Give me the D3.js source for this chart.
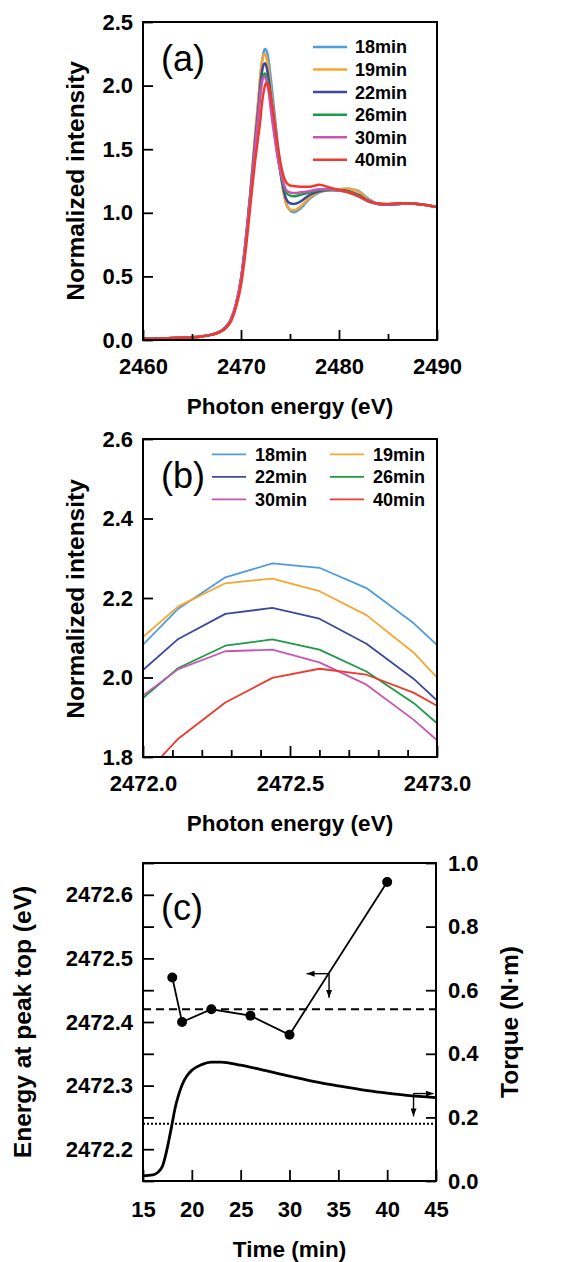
<!DOCTYPE html>
<html><head><meta charset="utf-8">
<script src="https://cdn.jsdelivr.net/npm/d3@7"></script>
<style>body{margin:0;background:#fff}svg{display:block}text{font-family:"Liberation Sans",Arial,Helvetica,sans-serif}</style>
</head><body><svg id="chart" width="567" height="1262"></svg>
<script>
// ---------- data ----------
const seriesNames = ["18min", "19min", "22min", "26min", "30min", "40min"];
const seriesColors = ["#4f9de0", "#f8a530", "#3c4a9e", "#1c9a48", "#c855b2", "#ee3a2e"];

const energy = [2460, 2462, 2464, 2465, 2466, 2467, 2468, 2468.5, 2469, 2469.5, 2470, 2470.5, 2471, 2471.4, 2471.8,
  2471.96, 2472.12, 2472.28, 2472.44, 2472.60, 2472.76, 2472.92, 2473.08,
  2473.4, 2473.8, 2474.2, 2474.6, 2475.0, 2475.4, 2476, 2477, 2478, 2479, 2480, 2481, 2482, 2483,
  2484, 2485, 2486, 2487, 2488, 2489, 2490];

const int18 = [0.010, 0.012, 0.017, 0.021, 0.028, 0.042, 0.072, 0.105, 0.165, 0.28, 0.48, 0.80, 1.20, 1.56, 1.90,
  2.052, 2.173, 2.252, 2.287, 2.276, 2.225, 2.137, 2.027,
  1.80, 1.50, 1.24, 1.08, 1.02, 1.005, 1.03, 1.11, 1.16, 1.18, 1.185, 1.19, 1.17, 1.11,
  1.07, 1.065, 1.07, 1.075, 1.07, 1.06, 1.045];
const int19 = [0.010, 0.012, 0.017, 0.021, 0.028, 0.042, 0.072, 0.105, 0.165, 0.28, 0.48, 0.80, 1.21, 1.58, 1.92,
  2.076, 2.179, 2.237, 2.249, 2.217, 2.157, 2.063, 1.937,
  1.74, 1.46, 1.22, 1.07, 1.025, 1.02, 1.045, 1.12, 1.165, 1.18, 1.185, 1.19, 1.165, 1.105,
  1.07, 1.065, 1.07, 1.075, 1.07, 1.06, 1.045];
const int22 = [0.010, 0.012, 0.017, 0.021, 0.028, 0.042, 0.072, 0.105, 0.165, 0.28, 0.47, 0.79, 1.18, 1.53, 1.85,
  1.993, 2.097, 2.160, 2.175, 2.148, 2.085, 1.997, 1.887,
  1.69, 1.44, 1.24, 1.11, 1.075, 1.07, 1.085, 1.14, 1.17, 1.18, 1.18, 1.17, 1.14, 1.095,
  1.07, 1.065, 1.07, 1.075, 1.07, 1.06, 1.045];
const int26 = [0.010, 0.012, 0.017, 0.021, 0.028, 0.042, 0.072, 0.105, 0.165, 0.28, 0.47, 0.78, 1.16, 1.48, 1.79,
  1.923, 2.024, 2.080, 2.096, 2.070, 2.015, 1.936, 1.834,
  1.64, 1.42, 1.26, 1.16, 1.135, 1.13, 1.14, 1.16, 1.18, 1.18, 1.175, 1.165, 1.135, 1.09,
  1.07, 1.065, 1.07, 1.075, 1.07, 1.06, 1.045];
const int30 = [0.010, 0.012, 0.017, 0.021, 0.028, 0.042, 0.072, 0.105, 0.17, 0.29, 0.48, 0.79, 1.17, 1.49, 1.80,
  1.932, 2.021, 2.066, 2.070, 2.038, 1.982, 1.894, 1.790,
  1.61, 1.41, 1.27, 1.18, 1.16, 1.155, 1.16, 1.17, 1.185, 1.185, 1.175, 1.16, 1.13, 1.09,
  1.07, 1.065, 1.07, 1.075, 1.07, 1.06, 1.045];
const int40 = [0.010, 0.012, 0.017, 0.021, 0.028, 0.040, 0.068, 0.098, 0.15, 0.26, 0.43, 0.72, 1.09, 1.38, 1.62,
  1.72, 1.846, 1.937, 1.999, 2.022, 2.007, 1.962, 1.896,
  1.73, 1.50, 1.33, 1.24, 1.215, 1.21, 1.205, 1.205, 1.22, 1.20, 1.18, 1.16, 1.13, 1.09,
  1.075, 1.07, 1.075, 1.075, 1.07, 1.06, 1.045];
const intensities = [int18, int19, int22, int26, int30, int40];

const timeMin = [18, 19, 22, 26, 30, 40];
const peakTopEnergy = [2472.47, 2472.40, 2472.42, 2472.41, 2472.38, 2472.62];

const torqueTime = [15, 16, 16.5, 17, 17.3, 17.65, 18, 18.3, 18.6, 19, 19.5, 20, 21, 22, 23, 25, 27, 30, 33, 35, 38, 40, 42, 45];
const torqueVal = [0.016, 0.019, 0.027, 0.047, 0.079, 0.128, 0.183, 0.231, 0.266, 0.302, 0.331, 0.348, 0.366, 0.374, 0.374, 0.364, 0.351, 0.33, 0.31, 0.299, 0.284, 0.276, 0.269, 0.262];

const dashedRef = 2472.42;   // left axis
const dottedRef = 2472.24;   // left axis

// tick values
const aTicksX = [2460, 2465, 2470, 2475, 2480, 2485, 2490];
const aLabelsX = [2460, 2470, 2480, 2490];
const aTicksY = [0, 0.5, 1.0, 1.5, 2.0, 2.5];
const bTicksX = [2472.0, 2472.1, 2472.2, 2472.3, 2472.4, 2472.5, 2472.6, 2472.7, 2472.8, 2472.9, 2473.0];
const bLabelsX = [2472.0, 2472.5, 2473.0];
const bTicksY = [1.8, 2.0, 2.2, 2.4, 2.6];
const cTicksX = [15, 20, 25, 30, 35, 40, 45];
const cTicksYL = [2472.15, 2472.2, 2472.25, 2472.3, 2472.35, 2472.4, 2472.45, 2472.5, 2472.55, 2472.6, 2472.65];
const cLabelsYL = [2472.2, 2472.3, 2472.4, 2472.5, 2472.6];
const cTicksYR = [0, 0.2, 0.4, 0.6, 0.8, 1.0];

// ---------- drawing ----------
const svg = d3.select("#chart");
const FONT = '"Liberation Sans",Arial,Helvetica,sans-serif';
const isIn = (arr, d) => arr.some(v => Math.abs(v - d) < 1e-6);

svg.append("defs").append("marker")
  .attr("id", "ah").attr("viewBox", "0 0 8 6").attr("refX", 8).attr("refY", 3)
  .attr("markerWidth", 8).attr("markerHeight", 6).attr("markerUnits", "userSpaceOnUse")
  .attr("orient", "auto")
  .append("path").attr("d", "M0,0L8,3L0,6Z").attr("fill", "#000");

function styleAxis(sel) {
  sel.select(".domain").remove();
  sel.attr("font-size", 22).attr("font-family", FONT).attr("font-weight", "bold");
  sel.selectAll(".tick line").attr("stroke", "#000").attr("stroke-width", 1.8);
  sel.selectAll(".tick text").attr("fill", "#000");
}

function bottomAxis(x, y0, ticks, labels, fmt, majLen, minLen, pad) {
  const ax = d3.axisBottom(x).tickValues(ticks).tickSize(-majLen).tickPadding(pad)
    .tickFormat(d => isIn(labels, d) ? fmt(d) : "");
  const g = svg.append("g").attr("transform", `translate(0,${y0})`).call(ax);
  styleAxis(g);
  g.selectAll(".tick").filter(d => !isIn(labels, d)).select("line").attr("y2", -minLen);
  return g;
}
function leftAxis(y, x0, ticks, labels, fmt, len) {
  const ax = d3.axisLeft(y).tickValues(ticks).tickSize(-len).tickPadding(10)
    .tickFormat(d => isIn(labels, d) ? fmt(d) : "");
  const g = svg.append("g").attr("transform", `translate(${x0},0)`).call(ax);
  styleAxis(g);
  return g;
}
function box(l, t, r, b) {
  svg.append("rect").attr("x", l).attr("y", t).attr("width", r - l).attr("height", b - t)
    .attr("fill", "none").attr("stroke", "#000").attr("stroke-width", 2);
}
function title(txt, x, y, rot, size) {
  svg.append("text").attr("transform", `translate(${x},${y})` + (rot ? " rotate(-90)" : ""))
    .attr("text-anchor", "middle").attr("font-size", size).attr("font-weight", "bold")
    .attr("fill", "#000").text(txt);
}
function panelLabel(txt, x, y) {
  svg.append("text").attr("x", x).attr("y", y).attr("font-size", 36).attr("fill", "#000").text(txt);
}

// ---- Panel (a) ----
const A = {l: 143, r: 437, t: 22, b: 340};
const xa = d3.scaleLinear().domain([2460, 2490]).range([A.l, A.r]);
const ya = d3.scaleLinear().domain([0, 2.5]).range([A.b, A.t]);
const lineA = d3.line().x((d, i) => xa(energy[i])).y(d => ya(d)).curve(d3.curveMonotoneX);
intensities.forEach((s, k) => {
  svg.append("path").datum(s).attr("d", lineA).attr("fill", "none")
    .attr("stroke", seriesColors[k]).attr("stroke-width", 2.5).attr("stroke-linejoin", "round");
});
box(A.l, A.t, A.r, A.b);
bottomAxis(xa, A.b, aTicksX, aLabelsX, d3.format("d"), 10, 6, 18);
leftAxis(ya, A.l, aTicksY, aTicksY, d3.format(".1f"), 10);
title("Photon energy (eV)", (A.l + A.r) / 2, 414, false, 22.5);
title("Normalized intensity", 84, (A.t + A.b) / 2, true, 24.5);
panelLabel("(a)", 161, 71);
// legend (a)
seriesNames.forEach((n, k) => {
  const yy = 47 + k * 22.55;
  svg.append("line").attr("x1", 313).attr("x2", 347).attr("y1", yy).attr("y2", yy)
    .attr("stroke", seriesColors[k]).attr("stroke-width", 2.5);
  svg.append("text").attr("x", 355).attr("y", yy).attr("dy", "0.36em").attr("font-size", 18)
    .attr("font-weight", "bold").attr("fill", "#000").text(n);
});

// ---- Panel (b) ----
const B = {l: 143, r: 437, t: 439, b: 757};
const xb = d3.scaleLinear().domain([2472.0, 2473.0]).range([B.l, B.r]);
const yb = d3.scaleLinear().domain([1.8, 2.6]).range([B.b, B.t]);
svg.select("defs").append("clipPath").attr("id", "clipB")
  .append("rect").attr("x", B.l).attr("y", B.t).attr("width", B.r - B.l).attr("height", B.b - B.t);
const lineB = d3.line().defined((d, i) => energy[i] >= 2471.9 && energy[i] <= 2473.1)
  .x((d, i) => xb(energy[i])).y(d => yb(d));
const gB = svg.append("g").attr("clip-path", "url(#clipB)");
intensities.forEach((s, k) => {
  gB.append("path").datum(s).attr("d", lineB).attr("fill", "none")
    .attr("stroke", seriesColors[k]).attr("stroke-width", 1.8).attr("stroke-linejoin", "round");
});
box(B.l, B.t, B.r, B.b);
bottomAxis(xb, B.b, bTicksX, bLabelsX, d3.format(".1f"), 11, 7, 18);
leftAxis(yb, B.l, bTicksY, bTicksY, d3.format(".1f"), 10);
title("Photon energy (eV)", (B.l + B.r) / 2, 831, false, 22.5);
title("Normalized intensity", 84, (B.t + B.b) / 2 + 1, true, 24.5);
panelLabel("(b)", 161, 488);
// legend (b)
seriesNames.forEach((n, k) => {
  const col = k % 2, row = Math.floor(k / 2);
  const yy = 454.3 + row * 22.5;
  const x1 = col === 0 ? 212 : 330;
  svg.append("line").attr("x1", x1).attr("x2", x1 + 34).attr("y1", yy).attr("y2", yy)
    .attr("stroke", seriesColors[k]).attr("stroke-width", 1.8);
  svg.append("text").attr("x", x1 + 43).attr("y", yy).attr("dy", "0.36em").attr("font-size", 18)
    .attr("font-weight", "bold").attr("fill", "#000").text(n);
});

// ---- Panel (c) ----
const C = {l: 143, r: 436, t: 863, b: 1181};
const xc = d3.scaleLinear().domain([15, 45]).range([C.l, C.r]);
const ycL = d3.scaleLinear().domain([2472.15, 2472.65]).range([C.b, C.t]);
const ycR = d3.scaleLinear().domain([0, 1.0]).range([C.b, C.t]);

svg.append("line").attr("x1", C.l).attr("x2", C.r).attr("y1", ycL(dashedRef)).attr("y2", ycL(dashedRef))
  .attr("stroke", "#000").attr("stroke-width", 2).attr("stroke-dasharray", "8,5");
svg.append("line").attr("x1", C.l).attr("x2", C.r).attr("y1", ycL(dottedRef)).attr("y2", ycL(dottedRef))
  .attr("stroke", "#000").attr("stroke-width", 2).attr("stroke-dasharray", "2,2");

const torqueLine = d3.line().x((d, i) => xc(torqueTime[i])).y(d => ycR(d)).curve(d3.curveMonotoneX);
svg.append("path").datum(torqueVal).attr("d", torqueLine).attr("fill", "none")
  .attr("stroke", "#000").attr("stroke-width", 2.8);

const peakLine = d3.line().x((d, i) => xc(timeMin[i])).y(d => ycL(d));
svg.append("path").datum(peakTopEnergy).attr("d", peakLine).attr("fill", "none")
  .attr("stroke", "#000").attr("stroke-width", 1.8);
svg.selectAll(".pt").data(peakTopEnergy).enter().append("circle")
  .attr("cx", (d, i) => xc(timeMin[i])).attr("cy", d => ycL(d)).attr("r", 5).attr("fill", "#000");

// arrows
function arrow(x1, y1, x2, y2) {
  svg.append("line").attr("x1", x1).attr("y1", y1).attr("x2", x2).attr("y2", y2)
    .attr("stroke", "#000").attr("stroke-width", 1.4).attr("marker-end", "url(#ah)");
}
// left-axis arrow (peak energy)
arrow(xc(34.05), ycL(2472.476), xc(31.75), ycL(2472.476));
arrow(xc(34.05), ycL(2472.476), xc(34.05), ycL(2472.438));
// right-axis arrow (torque)
arrow(xc(42.7), ycR(0.275), xc(44.75), ycR(0.275));
arrow(xc(42.7), ycR(0.275), xc(42.7), ycR(0.203));

box(C.l, C.t, C.r, C.b);
bottomAxis(xc, C.b, cTicksX, cTicksX, d3.format("d"), 11, 11, 20);
leftAxis(ycL, C.l, cTicksYL, cLabelsYL, d3.format(".1f"), 11);
{
  const ax = d3.axisRight(ycR).tickValues(cTicksYR).tickSize(-10).tickPadding(12).tickFormat(d3.format(".1f"));
  const g = svg.append("g").attr("transform", `translate(${C.r},0)`).call(ax);
  styleAxis(g);
}
title("Time (min)", (C.l + C.r) / 2, 1257, false, 22.5);
title("Energy at peak top (eV)", 31, (C.t + C.b) / 2, true, 24.5);
title("Torque (N\u00B7m)", 518, (C.t + C.b) / 2, true, 24.5);
panelLabel("(c)", 161, 920);
</script>
</body></html>
